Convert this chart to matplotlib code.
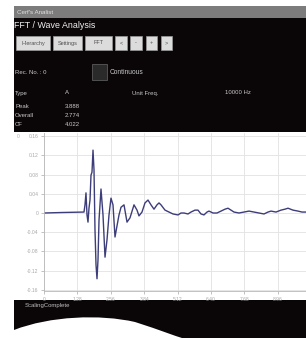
import numpy as np
import matplotlib
matplotlib.use("Agg")
import matplotlib.pyplot as plt
from matplotlib.patches import Rectangle, PathPatch
from matplotlib.path import Path

plt.rcParams['font.family'] = ['Liberation Sans', 'DejaVu Sans']

# wave data (time in ms, amplitude)
time_ms = [0.000, 0.651, 1.533, 1.571, 1.609, 1.648, 1.686, 1.724, 1.763, 1.801,
           1.839, 1.878, 1.916, 1.954, 1.993, 2.031, 2.069, 2.108, 2.184, 2.261,
           2.338, 2.414, 2.491, 2.567, 2.644, 2.721, 2.797, 2.874, 2.951, 3.066,
           3.181, 3.296, 3.449, 3.564, 3.640, 3.755, 3.870, 3.985, 4.100, 4.215,
           4.330, 4.407, 4.483, 4.637, 4.790, 4.943, 5.135, 5.250, 5.365, 5.518,
           5.633, 5.786, 5.901, 6.016, 6.131, 6.246, 6.323, 6.476, 6.629, 6.783,
           6.936, 7.051, 7.166, 7.281, 7.472, 7.664, 7.856, 8.047, 8.239, 8.430,
           8.584, 8.699, 8.890, 9.082, 9.235, 9.350, 9.542, 9.733, 9.887, 10.078]
amplitude = [0.000, 0.001, 0.002, 0.017, 0.042, -0.004, -0.019, 0.010, 0.027, 0.079,
             0.085, 0.131, 0.090, -0.035, -0.108, -0.137, -0.098, -0.015, 0.050, -0.004,
             -0.092, -0.056, -0.004, 0.031, 0.017, -0.050, -0.027, -0.004, 0.012, 0.017,
             -0.019, -0.010, 0.017, 0.006, -0.006, 0.002, 0.021, 0.027, 0.017, 0.008,
             0.017, 0.021, 0.017, 0.006, 0.002, -0.002, -0.004, 0.000, 0.000, -0.002,
             0.002, 0.006, 0.006, -0.002, -0.004, 0.002, 0.004, 0.000, 0.000, 0.004,
             0.008, 0.010, 0.006, 0.002, 0.000, 0.002, 0.004, 0.002, 0.000, -0.002,
             0.002, 0.004, 0.002, 0.006, 0.008, 0.010, 0.006, 0.004, 0.002, 0.002]

x_ticks = [0, 1.28, 2.56, 3.84, 5.12, 6.40, 7.68, 8.96]
x_tick_labels = ['0', '1.28', '2.56', '3.84', '5.12', '6.40', '7.68', '8.96']
y_ticks = [-0.16, -0.12, -0.08, -0.04, 0.0, 0.04, 0.08, 0.12, 0.16]
y_tick_labels = ['-0.16', '-0.12', '-0.08', '-0.04', '0', '0.04', '0.08', '0.12', '0.16']

buttons = ['Hierarchy', 'Settings', 'FFT', '<', '-', '+', '>']
info_rows = [('Peak', '3.888'), ('Overall', '2.774'), ('CF', '4.022')]

W, H = 306, 338
fig = plt.figure(figsize=(W / 100, H / 100), dpi=100)
fig.patch.set_facecolor('white')


def fx(x):
    return x / W


def fy(y):
    return 1 - y / H


def rect(x0, y0, x1, y1, **kw):
    fig.patches.append(Rectangle((fx(x0), fy(y1)), fx(x1) - fx(x0), fy(y0) - fy(y1),
                                 transform=fig.transFigure, zorder=-1, **kw))


def label(x, y, s, size=4.3, color='#c8c8c8', **kw):
    fig.text(fx(x), fy(y), s, fontsize=size, color=color, va='center', **kw)


# screen background
rect(14, 6, 306, 338, facecolor='#0a0507', edgecolor='none')
rect(14, 6, 306, 18, facecolor='#7c7c7c', edgecolor='none')
label(17, 12.5, "Cerf's Analist", size=4.5, color='#e0e0e0')
label(14, 25, 'FFT / Wave Analysis', size=6.4, color='#f0f0f0')

# buttons
btn_x = [(16, 50), (53, 82), (85, 112), (115, 127), (130, 142), (146, 157), (161, 172)]
for (x0, x1), name in zip(btn_x, buttons):
    rect(x0, 36, x1, 50, facecolor='#dcdcdc', edgecolor='#9a9a9a', linewidth=0.5)
    label((x0 + x1) / 2, 43, name, size=4.0, color='#505050', ha='center')

label(15, 72, 'Rec. No. : 0')
rect(92, 64, 107, 80, facecolor='#2a2a2a', edgecolor='#5a5a5a', linewidth=0.6)
label(110, 72, 'Continuous', size=4.8)

label(15, 93, 'Type')
label(65, 93, 'A')
label(132, 93, 'Unit Freq.')
label(225, 93, '10000 Hz')
for i, (name, val) in enumerate(info_rows):
    label(15, 106 + i * 9.5, name)
    label(65, 106 + i * 9.5, val)

# chart panel
rect(14, 132, 306, 300, facecolor='white', edgecolor='none')
label(17, 137, '0', size=3.5, color='#b0b0b0')
label(25, 306, 'ScalingComplete', size=4.3, color='#c0c0c0')

ax = fig.add_axes([fx(44), fy(291), fx(306) - fx(44), (291 - 133) / H])
ax.set_zorder(2)
ax.set_facecolor('white')
ax.plot(time_ms, amplitude, color='#3d3d7a', linewidth=1.0)
ax.set_xlim(0, 10.04)
ax.set_ylim(-0.1625, 0.1667)
ax.set_xticks(x_ticks)
ax.set_xticklabels(x_tick_labels)
ax.set_yticks(y_ticks)
ax.set_yticklabels(y_tick_labels)
ax.grid(True, color='#e2e2e2', linewidth=0.6)
ax.set_axisbelow(True)
ax.tick_params(labelsize=3.6, colors='#a8a8a8', length=2.5, width=0.5, pad=1.5)
for side in ['top', 'right']:
    ax.spines[side].set_visible(False)
for side in ['left', 'bottom']:
    ax.spines[side].set_color('#b8b8b8')
    ax.spines[side].set_linewidth(0.6)

# white page curl at bottom left
verts = [(fx(0), fy(338)), (fx(14), fy(338)), (fx(14), fy(330)),
         (fx(50), fy(316)), (fx(100), fy(314)), (fx(135), fy(322)),
         (fx(160), fy(330)), (fx(175), fy(336)), (fx(182), fy(338)),
         (fx(0), fy(338))]
codes = [Path.MOVETO, Path.LINETO, Path.LINETO,
         Path.CURVE4, Path.CURVE4, Path.CURVE4,
         Path.CURVE4, Path.CURVE4, Path.CURVE4,
         Path.CLOSEPOLY]
fig.patches.append(PathPatch(Path(verts, codes), facecolor='white', edgecolor='none',
                             transform=fig.transFigure, zorder=0))

fig.savefig('out.png', dpi=100)
